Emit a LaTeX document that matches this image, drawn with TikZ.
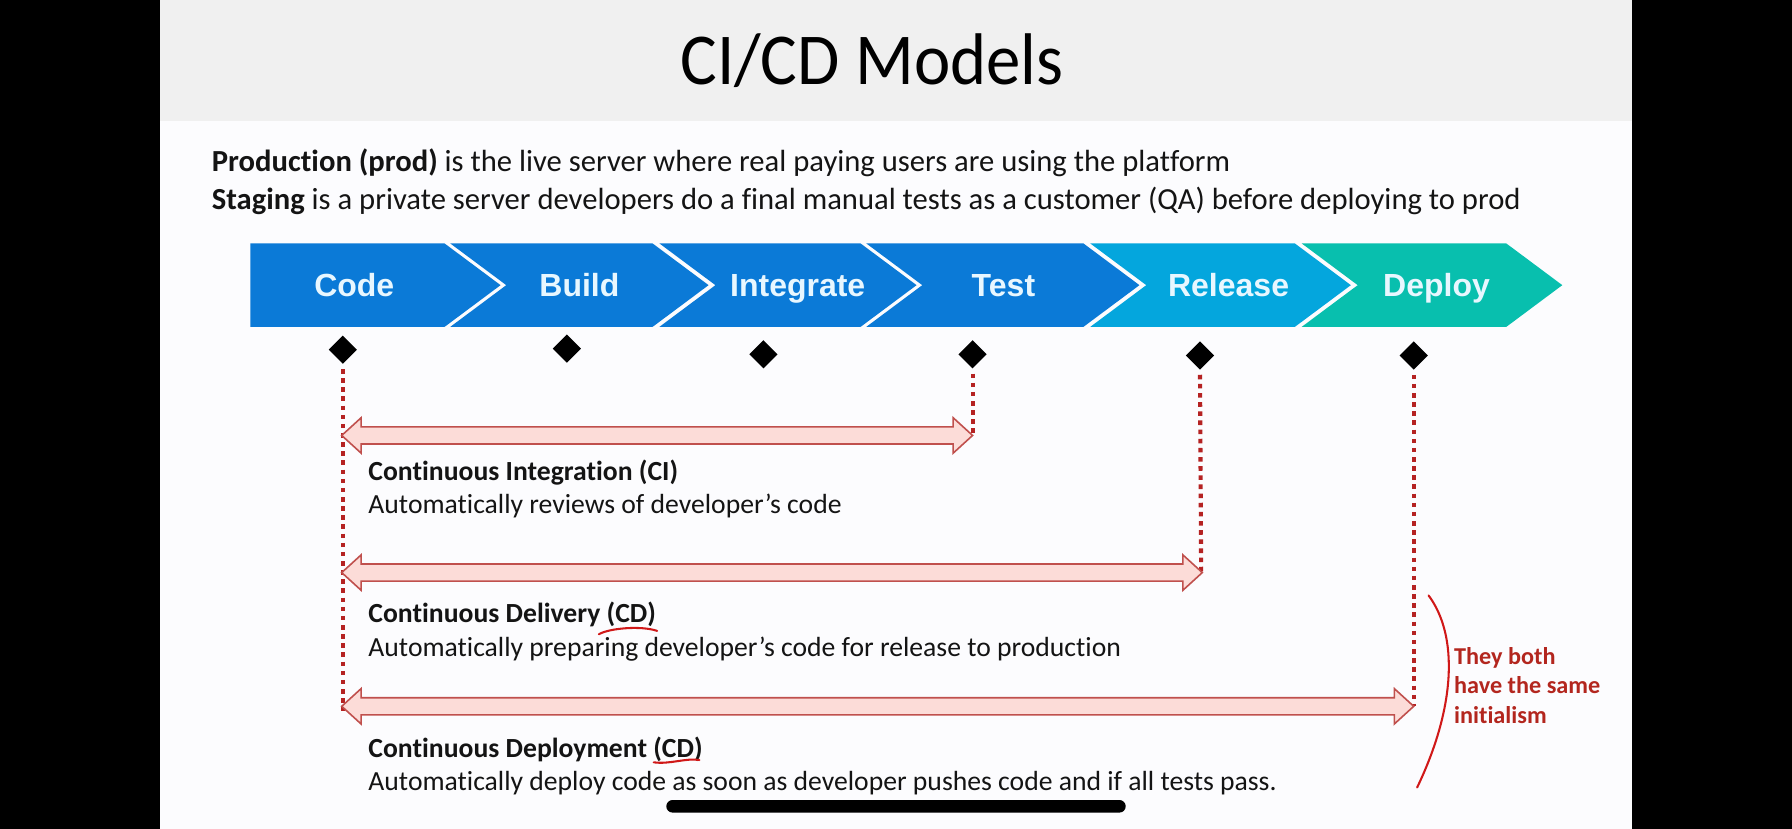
\documentclass[tikz,border=0pt]{standalone}
\usepackage{fontspec}
\setmainfont{Carlito}[Ligatures=NoCommon]
\newfontfamily\chevfont{Liberation Sans}
\newfontfamily\titlefont{Carlito}[FakeStretch=0.94]
\usetikzlibrary{shapes.geometric}

\definecolor{bandgray}{HTML}{F0F0F0}
\definecolor{slidewhite}{HTML}{FCFCFE}
\definecolor{stepblue}{HTML}{0B7AD7}
\definecolor{stepcyan}{HTML}{04A6DD}
\definecolor{stepteal}{HTML}{08BFAE}
\definecolor{steptext}{HTML}{E8F7FF}
\definecolor{dotred}{HTML}{B52222}
\definecolor{arrowline}{HTML}{C0504D}
\definecolor{arrowfill}{HTML}{FCDCD8}
\definecolor{inkred}{HTML}{D01818}
\definecolor{notered}{HTML}{B3261E}
\definecolor{bodyink}{HTML}{141414}

\tikzset{
  steplabel/.style={anchor=base, text=steptext, font=\chevfont\bfseries\fontsize{14}{16}\selectfont, inner sep=0pt},
  milestone/.style={shape=diamond, fill=black, inner sep=0pt, minimum width=12.5pt, minimum height=12.5pt},
  dotline/.style={draw=dotred, line width=1.8pt, dash pattern=on 2pt off 2pt},
  blockarrow/.style={draw=arrowline, fill=arrowfill, line width=0.7pt, line join=miter},
  heading/.style={anchor=base west, inner sep=0pt, text=bodyink, font=\bfseries\fontsize{12.1}{14}\selectfont},
  desc/.style={anchor=base west, inner sep=0pt, text=bodyink, font=\fontsize{12.1}{14}\selectfont},
  intro/.style={anchor=base west, inner sep=0pt, text=bodyink, font=\fontsize{13.4}{15}\selectfont},
  scribble/.style={draw=inkred, line width=0.9pt, line cap=round},
  note/.style={anchor=base west, inner sep=0pt, text=notered, font=\bfseries\fontsize{10.6}{13}\selectfont},
}

% double-headed block arrow: left x, right x, centre y
\newcommand\spanarrow[3]{%
  \draw[blockarrow] (#1,#3) -- (#1+17,#3-15.5) -- (#1+17,#3-7.5) -- (#2-17,#3-7.5)
    -- (#2-17,#3-15.5) -- (#2,#3) -- (#2-17,#3+15.5) -- (#2-17,#3+7.5)
    -- (#1+17,#3+7.5) -- (#1+17,#3+15.5) -- cycle;}

% pipeline chevron: left x, right x of flat part, colour, notch depth
\newcommand\chevron[4]{%
  \fill[#3] (#1,213) -- (#2,213) -- (#2+49,249.5) -- (#2,286) -- (#1,286) -- (#1+#4,249.5) -- cycle;}

\begin{document}
\begin{tikzpicture}[x=0.5pt,y=-0.5pt]
\useasboundingbox (0,0) rectangle (1568,725);

% screen and slide
\fill[black] (0,0) rectangle (1568,725);
\fill[slidewhite] (140,0) rectangle (1428,725);
\fill[bandgray] (140,0) rectangle (1428,106);

\node[anchor=base, inner sep=0pt, font=\titlefont\fontsize{32}{34}\selectfont] (title) at (763,74) {CI/CD Models};

\node[intro] (prodline) at (185,150) {\textbf{Production (prod)} is the live server where real paying users are using the platform};
\node[intro] (stageline) at (185,183) {\textbf{Staging} is a private server developers do a final manual tests as a customer (QA) before deploying to prod};

% pipeline
\chevron{219}{389}{stepblue}{0}
\chevron{394}{571}{stepblue}{49}
\chevron{577}{753}{stepblue}{49}
\chevron{758}{948}{stepblue}{49}
\chevron{954}{1133}{stepcyan}{49}
\chevron{1139}{1318}{stepteal}{49}

\node[steplabel] (lcode) at (310,259) {Code};
\node[steplabel] (lbuild) at (507,259) {Build};
\node[steplabel] (lintegrate) at (698,259) {Integrate};
\node[steplabel] (ltest) at (878,259) {Test};
\node[steplabel] (lrelease) at (1075,259) {Release};
\node[steplabel] (ldeploy) at (1257,259) {Deploy};

% milestones
\node[milestone] (dcode) at (300,306) {};
\node[milestone] (dbuild) at (496,305) {};
\node[milestone] (dintegrate) at (668,310) {};
\node[milestone] (dtest) at (851,310) {};
\node[milestone] (drelease) at (1050,311) {};
\node[milestone] (ddeploy) at (1237,311) {};

\coordinate (endcode) at (300,622);
\coordinate (endtest) at (851,381);
\coordinate (endrelease) at (1051,501);
\coordinate (enddeploy) at (1237,618);

\draw[dotline] ([yshift=-2pt]dcode.south) -- (endcode);
\draw[dotline] ([yshift=-2pt]dtest.south) -- (endtest);
\draw[dotline] ([yshift=-2pt]drelease.south) -- (endrelease);
\draw[dotline] ([yshift=-2pt]ddeploy.south) -- (enddeploy);

% spans
\spanarrow{299}{851}{381}
\spanarrow{299}{1052}{501}
\spanarrow{299}{1237}{618}

\node[heading] (hci) at (322,420) {Continuous Integration (CI)};
\node[desc] (tci) at (322,449) {Automatically reviews of developer’s code};
\node[heading] (hcd) at (322,545) {Continuous Delivery (CD)};
\node[desc] (tcd) at (322,574) {Automatically preparing developer’s code for release to production};
\node[heading] (hdep) at (322,663) {Continuous Deployment (CD)};
\node[desc] (tdep) at (322,692) {Automatically deploy code as soon as developer pushes code and if all tests pass.};

% hand-drawn marks
\draw[scribble] (524,555) .. controls (532,550) and (560,547) .. (575,552);
\draw[scribble] (572,667) .. controls (586,669) and (600,663) .. (612,665);
\draw[scribble] (1250,521) .. controls (1276,556) and (1274,618) .. (1240,689);

\node[note] (n1) at (1272,581) {They both};
\node[note] (n2) at (1272,607) {have the same};
\node[note] (n3) at (1272,633) {initialism};

% home indicator
\fill[black, rounded corners=2.75pt] (583,700) rectangle (985,711);
\end{tikzpicture}
\end{document}
